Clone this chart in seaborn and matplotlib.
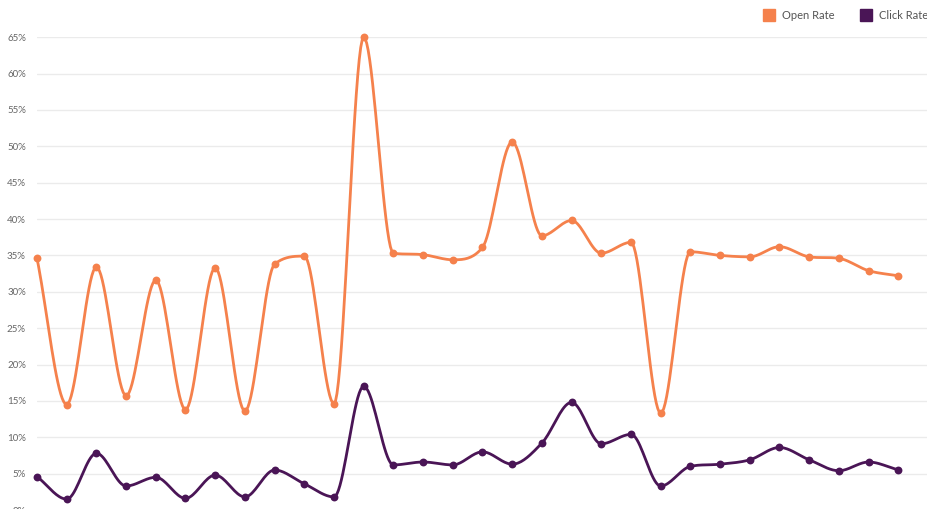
import numpy as np
import pandas as pd
import seaborn as sns
import matplotlib.pyplot as plt
from matplotlib.lines import Line2D

# Campaign sends, in order
sends = list(range(30))

open_rate = [34.6, 14.5, 33.4, 15.7, 31.6, 13.8, 33.3, 13.6, 33.8, 34.9,
             14.6, 65.0, 35.3, 35.1, 34.4, 36.1, 50.6, 37.7, 39.8, 35.3,
             36.8, 13.3, 35.5, 35.0, 34.8, 36.2, 34.8, 34.6, 32.9, 32.2]

click_rate = [4.6, 1.5, 7.8, 3.3, 4.5, 1.6, 4.8, 1.8, 5.5, 3.6,
              1.8, 17.0, 6.2, 6.6, 6.2, 8.0, 6.3, 9.2, 14.8, 9.1,
              10.4, 3.3, 6.0, 6.3, 6.9, 8.6, 6.9, 5.4, 6.6, 5.5]

y_ticks = list(range(0, 70, 5))

OPEN_COLOR = "#F5814C"
CLICK_COLOR = "#4A1556"


def monotone_curve(x, y, n=20):
    # monotone cubic (like d3 curveMonotoneX) for drawing the smooth line
    x = np.asarray(x, float)
    y = np.asarray(y, float)
    h = np.diff(x)
    d = np.diff(y) / h
    m = np.zeros_like(y)
    m[0], m[-1] = d[0], d[-1]
    for i in range(1, len(y) - 1):
        if d[i - 1] * d[i] <= 0:
            m[i] = 0
        else:
            m[i] = (h[i - 1] * d[i] + h[i] * d[i - 1]) / (h[i - 1] + h[i])
            m[i] = np.sign(m[i]) * min(abs(m[i]), 3 * min(abs(d[i - 1]), abs(d[i])))
    xs, ys = [], []
    for i in range(len(x) - 1):
        t = np.linspace(0, 1, n, endpoint=False)
        h00 = 2 * t**3 - 3 * t**2 + 1
        h10 = t**3 - 2 * t**2 + t
        h01 = -2 * t**3 + 3 * t**2
        h11 = t**3 - t**2
        xs.append(x[i] + t * h[i])
        ys.append(h00 * y[i] + h10 * h[i] * m[i] + h01 * y[i + 1] + h11 * h[i] * m[i + 1])
    xs.append([x[-1]])
    ys.append([y[-1]])
    return np.concatenate(xs), np.concatenate(ys)


sns.set_style("white")
plt.rcParams['font.family'] = ['Lato', 'DejaVu Sans']

fig = plt.figure(figsize=(9.28, 5.09), dpi=100)
ax = fig.add_axes([37 / 928, -0.002, 1 - 37 / 928, 0.929])

df = pd.DataFrame({"send": sends, "Open Rate": open_rate, "Click Rate": click_rate})

for col, color in [("Open Rate", OPEN_COLOR), ("Click Rate", CLICK_COLOR)]:
    cx, cy = monotone_curve(df["send"], df[col])
    sns.lineplot(x=cx, y=cy, ax=ax, color=color, linewidth=2.0, sort=False,
                 estimator=None, clip_on=False, zorder=3)
    sns.scatterplot(data=df, x="send", y=col, ax=ax, color=color, s=32,
                    edgecolor=color, linewidth=0, clip_on=False, zorder=4)

ax.set_xlim(0, 30.0)
ax.set_ylim(0, 65)
ax.set_yticks(y_ticks)
ax.set_yticklabels([f"{t}%" for t in y_ticks])
ax.set_xticks([])
ax.set_xlabel("")
ax.set_ylabel("")
ax.grid(axis="y", color="#EBEBEB", linewidth=1.0)
ax.set_axisbelow(True)
ax.tick_params(axis="y", length=0, pad=8, labelsize=7, labelcolor="#666666")
for s in ax.spines.values():
    s.set_visible(False)

handles = [Line2D([], [], marker="s", linestyle="", markersize=9,
                  markerfacecolor=OPEN_COLOR, markeredgecolor=OPEN_COLOR, label="Open Rate"),
           Line2D([], [], marker="s", linestyle="", markersize=9,
                  markerfacecolor=CLICK_COLOR, markeredgecolor=CLICK_COLOR, label="Click Rate")]
fig.legend(handles=handles, loc="upper right", bbox_to_anchor=(1.011, 1.0), ncol=2,
           frameon=False, fontsize=8, labelcolor="#555555", handletextpad=0.7,
           columnspacing=2.3, handlelength=1.0)

fig.savefig("out.png", dpi=100)
